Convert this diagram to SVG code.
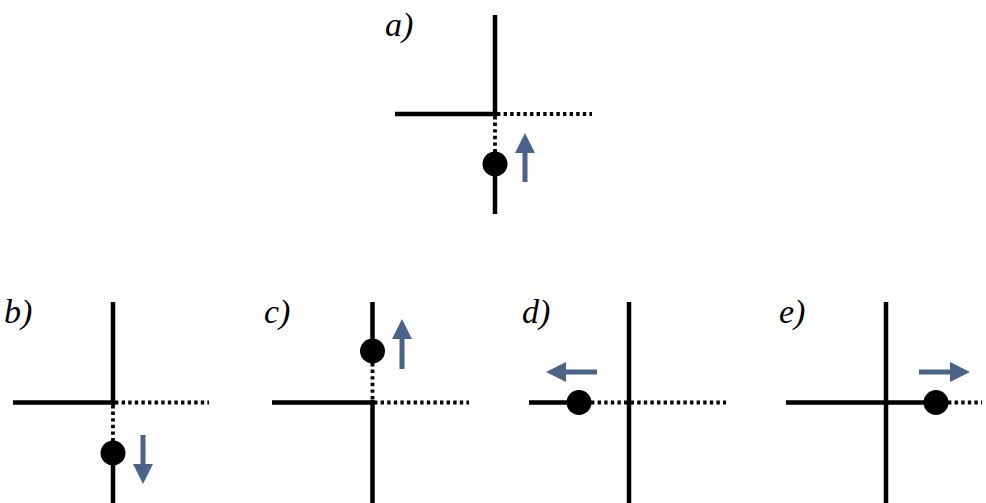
<svg xmlns="http://www.w3.org/2000/svg" width="986" height="503" viewBox="0 0 986 503">
<style>
.solid{stroke:#000;stroke-width:4.5;fill:none}
.dot{stroke:#000;stroke-width:3.8;stroke-dasharray:3.4 3.2;fill:none}
.ball{fill:#000}
.arr{stroke:#4B6388;stroke-width:5;fill:none;marker-end:url(#head)}
.lbl{font-family:"Liberation Serif",serif;font-style:italic;font-size:34px;fill:#000}
</style>
<defs>
<marker id="head" markerUnits="userSpaceOnUse" markerWidth="20" markerHeight="20" refX="0" refY="10" orient="auto" viewBox="0 0 20 20">
<path d="M0,0 L20,10 L0,20 z" fill="#4B6388"/>
</marker>
</defs>
<rect width="986" height="503" fill="#fff"/>
<g id="panel-a">
<text class="lbl" x="385" y="36">a)</text>
<line class="solid" x1="495" y1="15" x2="495" y2="116"/>
<line class="solid" x1="395" y1="114" x2="497" y2="114"/>
<line class="dot" x1="497" y1="114" x2="592" y2="114"/>
<line class="dot" x1="495" y1="116" x2="495" y2="152"/>
<line class="solid" x1="495" y1="164" x2="495" y2="214"/>
<circle class="ball" cx="495" cy="164" r="12.5"/>
<line class="arr" x1="525" y1="182" x2="525" y2="153"/>
</g>
<g id="panel-b">
<text class="lbl" x="4" y="323">b)</text>
<line class="solid" x1="113" y1="302" x2="113" y2="405"/>
<line class="solid" x1="13" y1="402.5" x2="115" y2="402.5"/>
<line class="dot" x1="115" y1="402.5" x2="209" y2="402.5"/>
<line class="dot" x1="113" y1="405" x2="113" y2="441"/>
<line class="solid" x1="113" y1="453" x2="113" y2="503"/>
<circle class="ball" cx="113" cy="453" r="12.5"/>
<line class="arr" x1="143" y1="435" x2="143" y2="464"/>
</g>
<g id="panel-c">
<text class="lbl" x="264" y="323">c)</text>
<line class="solid" x1="372.5" y1="302" x2="372.5" y2="351"/>
<circle class="ball" cx="372.5" cy="351" r="12.5"/>
<line class="dot" x1="372.5" y1="363" x2="372.5" y2="400"/>
<line class="solid" x1="372.5" y1="400" x2="372.5" y2="503"/>
<line class="solid" x1="272" y1="402.5" x2="374" y2="402.5"/>
<line class="dot" x1="374" y1="402.5" x2="469" y2="402.5"/>
<line class="arr" x1="402" y1="369" x2="402" y2="339"/>
</g>
<g id="panel-d">
<text class="lbl" x="522" y="323">d)</text>
<line class="solid" x1="629" y1="302" x2="629" y2="503"/>
<line class="solid" x1="529" y1="402.5" x2="579" y2="402.5"/>
<line class="dot" x1="591" y1="402.5" x2="726" y2="402.5"/>
<circle class="ball" cx="579" cy="402.5" r="12.5"/>
<line class="arr" x1="597" y1="372" x2="566" y2="372"/>
</g>
<g id="panel-e">
<text class="lbl" x="779" y="323">e)</text>
<line class="solid" x1="886" y1="302" x2="886" y2="503"/>
<line class="solid" x1="786" y1="402.5" x2="936" y2="402.5"/>
<line class="dot" x1="948" y1="402.5" x2="982" y2="402.5"/>
<circle class="ball" cx="936" cy="402.5" r="12.5"/>
<line class="arr" x1="919" y1="372" x2="950" y2="372"/>
</g>
</svg>
